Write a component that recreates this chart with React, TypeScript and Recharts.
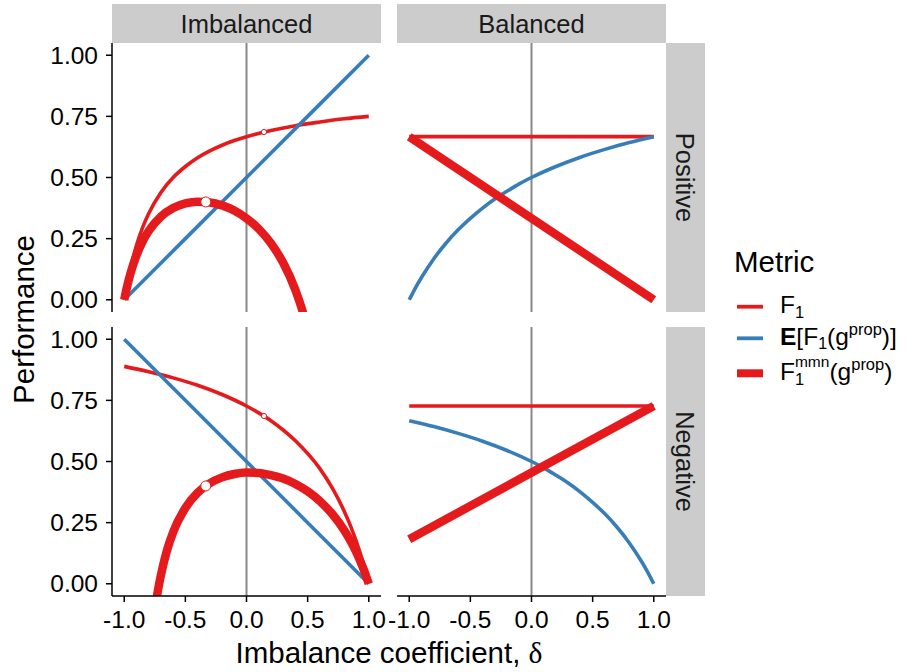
import React from 'react';
import { LineChart, Line, XAxis, YAxis, ReferenceLine, ReferenceDot } from 'recharts';

const RED = '#E41A1C';
const BLUE = '#377EB8';
const FONT = '"Liberation Sans", Arial, Helvetica, sans-serif';

// tick values
const xTicks = [-1, -0.5, 0, 0.5, 1];
const yTicks = [0, 0.25, 0.5, 0.75, 1];
const colLabels = ['Imbalanced', 'Balanced'];
const rowLabels = ['Positive', 'Negative'];

// [delta, performance]
const imbPosF1: [number, number][] = [[-1, 0], [-0.99, 0.029], [-0.975, 0.069], [-0.95, 0.128], [-0.9, 0.222], [-0.85, 0.295], [-0.8, 0.353], [-0.7, 0.439], [-0.6, 0.5], [-0.5, 0.545], [-0.4, 0.581], [-0.3, 0.609], [-0.2, 0.632], [-0.1, 0.651], [0, 0.667], [0.2, 0.692], [0.4, 0.712], [0.6, 0.727], [0.8, 0.74], [1, 0.75]];
const imbPosE: [number, number][] = [[-1, 0], [0, 0.5], [1, 1]];
const imbPosMmn: [number, number][] = [[-1, 0], [-0.99, 0.024], [-0.975, 0.057], [-0.95, 0.106], [-0.9, 0.181], [-0.85, 0.238], [-0.8, 0.281], [-0.7, 0.34], [-0.6, 0.375], [-0.5, 0.394], [-0.4, 0.401], [-0.3, 0.398], [-0.2, 0.386], [-0.1, 0.365], [0, 0.333], [0.1, 0.29], [0.2, 0.231], [0.3, 0.151], [0.4, 0.04], [0.45, -0.033], [0.5, -0.12], [0.6, -0.364]];

const imbNegF1: [number, number][] = [[-1, 0.889], [-0.8, 0.867], [-0.6, 0.842], [-0.4, 0.812], [-0.2, 0.774], [0, 0.727], [0.2, 0.667], [0.4, 0.585], [0.6, 0.471], [0.7, 0.393], [0.8, 0.296], [0.85, 0.238], [0.9, 0.17], [0.95, 0.092], [0.975, 0.048], [0.99, 0.02], [1, 0]];
const imbNegE: [number, number][] = [[-1, 1], [0, 0.5], [1, 0]];
const imbNegMmn: [number, number][] = [[-0.75, -0.108], [-0.725, -0.029], [-0.7, 0.035], [-0.65, 0.137], [-0.6, 0.211], [-0.5, 0.31], [-0.4, 0.372], [-0.3, 0.411], [-0.2, 0.435], [-0.1, 0.449], [0, 0.455], [0.1, 0.453], [0.2, 0.444], [0.3, 0.43], [0.4, 0.408], [0.5, 0.378], [0.6, 0.338], [0.7, 0.286], [0.8, 0.218], [0.85, 0.176], [0.9, 0.127], [0.95, 0.069], [0.975, 0.036], [0.99, 0.015], [1, 0]];

const balPosF1: [number, number][] = [[-1, 0.667], [1, 0.667]];
const balPosE: [number, number][] = [[-1, 0], [-0.95, 0.048], [-0.9, 0.091], [-0.8, 0.167], [-0.7, 0.231], [-0.6, 0.286], [-0.5, 0.333], [-0.4, 0.375], [-0.3, 0.412], [-0.2, 0.444], [-0.1, 0.474], [0, 0.5], [0.2, 0.545], [0.4, 0.583], [0.6, 0.615], [0.8, 0.643], [1, 0.667]];
const balPosMmn: [number, number][] = [[-1, 0.667], [1, 0]];

const balNegF1: [number, number][] = [[-1, 0.727], [1, 0.727]];
const balNegE: [number, number][] = [[-1, 0.667], [-0.8, 0.643], [-0.6, 0.615], [-0.4, 0.583], [-0.2, 0.545], [0, 0.5], [0.1, 0.474], [0.2, 0.444], [0.3, 0.412], [0.4, 0.375], [0.5, 0.333], [0.6, 0.286], [0.7, 0.231], [0.8, 0.167], [0.9, 0.091], [0.95, 0.048], [1, 0]];
const balNegMmn: [number, number][] = [[-1, 0.182], [1, 0.727]];

// highlighted points
const thinDots: [number, number][] = [[0.143, 0.686]];
const thickDots: [number, number][] = [[-0.333, 0.4]];

const PW = 269;
const PH = 269;
const M = 24;

const toData = (p: [number, number][]) => p.map(([x, y]) => ({ x, y }));

type PanelProps = {
  left: number;
  top: number;
  showX: boolean;
  showY: boolean;
  f1: [number, number][];
  e: [number, number][];
  mmn: [number, number][];
  dots: boolean;
};

function Panel({ left, top, showX, showY, f1, e, mmn, dots }: PanelProps) {
  const yW = showY ? 104 : 0;
  const xH = showX ? 60 : 0;
  const width = M + yW + PW + M;
  const height = PH + xH;
  const tickStyle = { fontSize: 24.5, fill: '#000', fontFamily: FONT };
  return (
    <div style={{ position: 'absolute', left: left - yW - M, top }}>
      <LineChart width={width} height={height} margin={{ top: 0, right: M, bottom: 0, left: M }}>
        <XAxis
          type="number"
          dataKey="x"
          domain={[-1.1, 1.1]}
          ticks={xTicks}
          interval={0}
          allowDataOverflow
          hide={!showX}
          height={xH}
          tickFormatter={(v: number) => v.toFixed(1)}
          tick={tickStyle}
          tickSize={6}
          tickMargin={9}
          stroke="#000"
          axisLine={{ stroke: '#000', strokeWidth: 1.5 }}
          tickLine={{ stroke: '#000', strokeWidth: 1.5 }}
        />
        <YAxis
          type="number"
          dataKey="y"
          domain={[-0.05, 1.05]}
          ticks={yTicks}
          interval={0}
          allowDataOverflow
          hide={!showY}
          width={yW}
          tickFormatter={(v: number) => v.toFixed(2)}
          tick={tickStyle}
          tickSize={6}
          tickMargin={8}
          stroke="#000"
          axisLine={{ stroke: '#000', strokeWidth: 1.5 }}
          tickLine={{ stroke: '#000', strokeWidth: 1.5 }}
        />
        <ReferenceLine x={0} stroke="#888888" strokeWidth={2} ifOverflow="hidden" />
        <Line data={toData(f1)} dataKey="y" type="monotone" stroke={RED} strokeWidth={3.6} dot={false} activeDot={false} isAnimationActive={false} />
        <Line data={toData(e)} dataKey="y" type="monotone" stroke={BLUE} strokeWidth={3.6} dot={false} activeDot={false} isAnimationActive={false} />
        <Line data={toData(mmn)} dataKey="y" type="monotone" stroke={RED} strokeWidth={8.5} dot={false} activeDot={false} isAnimationActive={false} />
        {dots && thinDots.map(([x, y], i) => (
          <ReferenceDot key={'t' + i} x={x} y={y} r={2.6} fill="#fff" stroke={RED} strokeWidth={1} />
        ))}
        {dots && thickDots.map(([x, y], i) => (
          <ReferenceDot key={'k' + i} x={x} y={y} r={5} fill="#fff" stroke={RED} strokeWidth={1} />
        ))}
      </LineChart>
    </div>
  );
}

const XL = 112;
const XR = 397;
const YT = 43;
const YB = 327;

export default function App() {
  return (
    <div style={{ position: 'absolute', left: 0, top: 0, width: 909, height: 672, background: '#fff', fontFamily: FONT }}>
      <svg width={909} height={672} style={{ position: 'absolute', left: 0, top: 0 }}>
        {/* strips */}
        <rect x={XL} y={4} width={PW} height={39} fill="#CCCCCC" />
        <rect x={XR} y={4} width={PW} height={39} fill="#CCCCCC" />
        <rect x={XR + PW} y={YT} width={39} height={PH} fill="#CCCCCC" />
        <rect x={XR + PW} y={YB} width={39} height={PH} fill="#CCCCCC" />
        <text x={XL + PW / 2} y={32.5} textAnchor="middle" fontSize={25.5} fill="#1a1a1a" fontFamily={FONT}>{colLabels[0]}</text>
        <text x={XR + PW / 2} y={32.5} textAnchor="middle" fontSize={25.5} fill="#1a1a1a" fontFamily={FONT}>{colLabels[1]}</text>
        <text transform={`translate(676,${YT + PH / 2}) rotate(90)`} textAnchor="middle" fontSize={25.5} fill="#1a1a1a" fontFamily={FONT}>{rowLabels[0]}</text>
        <text transform={`translate(676,${YB + PH / 2}) rotate(90)`} textAnchor="middle" fontSize={25.5} fill="#1a1a1a" fontFamily={FONT}>{rowLabels[1]}</text>
        {/* axis titles */}
        <text transform={`translate(34,${(YT + YB + PH) / 2}) rotate(-90)`} textAnchor="middle" fontSize={29.5} fill="#000" fontFamily={FONT}>Performance</text>
        <text x={(XL + XR + PW) / 2} y={663} textAnchor="middle" fontSize={29.5} fill="#000" fontFamily={FONT}>
          Imbalance coefficient, <tspan fontFamily='"Liberation Serif", "DejaVu Serif", serif'>δ</tspan>
        </text>
        {/* legend */}
        <text x={734} y={272} fontSize={29.5} fill="#000" fontFamily={FONT}>Metric</text>
        <line x1={737} x2={763} y1={306.7} y2={306.7} stroke={RED} strokeWidth={3.8} />
        <line x1={737} x2={763} y1={338.3} y2={338.3} stroke={BLUE} strokeWidth={3.8} />
        <line x1={737} x2={763} y1={373.3} y2={373.3} stroke={RED} strokeWidth={8} />
        <text x={780} y={313} fontSize={24.5} fill="#000" fontFamily={FONT}>
          F<tspan dy={5} fontSize={16.5}>1</tspan>
        </text>
        <text x={780} y={345} fontSize={24.5} fill="#000" fontFamily={FONT}>
          <tspan fontWeight="bold">E</tspan>[F<tspan dy={4} fontSize={16}>1</tspan><tspan dy={-4}>(g</tspan><tspan dy={-10} fontSize={16.5}>prop</tspan><tspan dy={10}>)]</tspan>
        </text>
        <text x={780} y={380} fontSize={24.5} fill="#000" fontFamily={FONT}>
          F<tspan dy={5} fontSize={16.5}>1</tspan><tspan dx={-9.2} dy={-18} fontSize={15.5}>mmn</tspan><tspan dy={13}>(g</tspan><tspan dy={-10} fontSize={16.5}>prop</tspan><tspan dy={10}>)</tspan>
        </text>
      </svg>
      <Panel left={XL} top={YT} showX={false} showY={true} f1={imbPosF1} e={imbPosE} mmn={imbPosMmn} dots={true} />
      <Panel left={XR} top={YT} showX={false} showY={false} f1={balPosF1} e={balPosE} mmn={balPosMmn} dots={false} />
      <Panel left={XL} top={YB} showX={true} showY={true} f1={imbNegF1} e={imbNegE} mmn={imbNegMmn} dots={true} />
      <Panel left={XR} top={YB} showX={true} showY={false} f1={balNegF1} e={balNegE} mmn={balNegMmn} dots={false} />
    </div>
  );
}
